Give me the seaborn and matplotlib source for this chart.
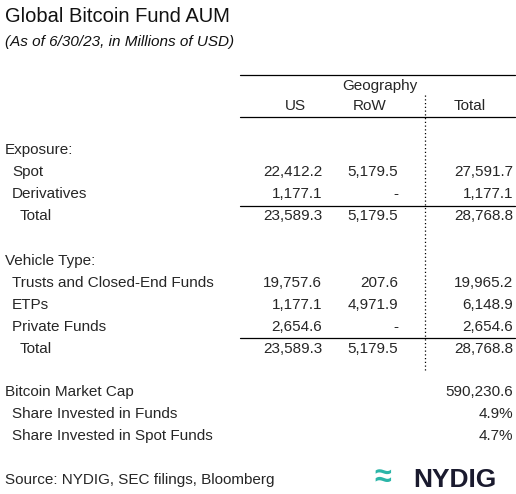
import matplotlib
matplotlib.use("Agg")
import matplotlib.pyplot as plt
import seaborn as sns

sns.set_theme(style="white")
plt.rcParams['font.family'] = ['Liberation Sans', 'DejaVu Sans']

title = "Global Bitcoin Fund AUM"
subtitle = "(As of 6/30/23, in Millions of USD)"
columns = ["US", "RoW", "Total"]
exposure_rows = ["Spot", "Derivatives", "Total"]
exposure_us = ["22,412.2", "1,177.1", "23,589.3"]
exposure_row = ["5,179.5", "-", "5,179.5"]
exposure_total = ["27,591.7", "1,177.1", "28,768.8"]
vehicle_rows = ["Trusts and Closed-End Funds", "ETPs", "Private Funds", "Total"]
vehicle_us = ["19,757.6", "1,177.1", "2,654.6", "23,589.3"]
vehicle_row = ["207.6", "4,971.9", "-", "5,179.5"]
vehicle_total = ["19,965.2", "6,148.9", "2,654.6", "28,768.8"]
cap_rows = ["Bitcoin Market Cap", "Share Invested in Funds", "Share Invested in Spot Funds"]
cap_values = ["590,230.6", "4.9%", "4.7%"]
source = "Source: NYDIG, SEC filings, Bloomberg"

W, H = 516, 494
fig = plt.figure(figsize=(W/100, H/100), dpi=100)
ax = fig.add_axes([0, 0, 1, 1])
ax.set_xlim(0, W); ax.set_ylim(H, 0); ax.axis("off")

fs = 11
ax.text(5, 16, title, fontsize=14.5, va="center", color="#111")
ax.text(5, 42, subtitle, fontsize=11, style="italic", va="center", color="#111")

def hline(y):
    ax.plot([240, 515], [y, y], color="black", lw=0.9)
hline(75); hline(117)
ax.plot([425, 425], [95, 372], color="black", lw=0.9, ls=(0, (1, 2)))
ax.text(380, 86, "Geography", fontsize=fs, ha="center", va="center")
for x, c in zip([295, 370, 470], columns):
    ax.text(x, 106, c, fontsize=fs, ha="center", va="center")

xs = [322, 398, 513]
def block(y0, header, rows, a, b, c, line_y):
    ax.text(5, y0, header, fontsize=fs, va="center")
    for i, r in enumerate(rows):
        y = y0 + 22 * (i + 1)
        indent = 20 if r == "Total" else 12
        ax.text(indent, y, r, fontsize=fs, va="center")
        for x, v in zip(xs, [a[i], b[i], c[i]]):
            ax.text(x, y, v, fontsize=fs, va="center", ha="right")
    hline(line_y)

block(150, "Exposure:", exposure_rows, exposure_us, exposure_row, exposure_total, 206)
block(261, "Vehicle Type:", vehicle_rows, vehicle_us, vehicle_row, vehicle_total, 338)

for i, (r, v) in enumerate(zip(cap_rows, cap_values)):
    y = 392 + 22 * i
    ax.text(5 if i == 0 else 12, y, r, fontsize=fs, va="center")
    ax.text(513, y, v, fontsize=fs, va="center", ha="right")

ax.text(5, 480, source, fontsize=fs, va="center")
ax.text(374, 478, "\u2248", fontsize=22, va="center", color="#2bb5a8", fontweight="bold")
ax.text(413, 480, "NYDIG", fontsize=19, va="center", color="#1a1a2e", fontweight="bold")

fig.savefig("out.png", dpi=100)
